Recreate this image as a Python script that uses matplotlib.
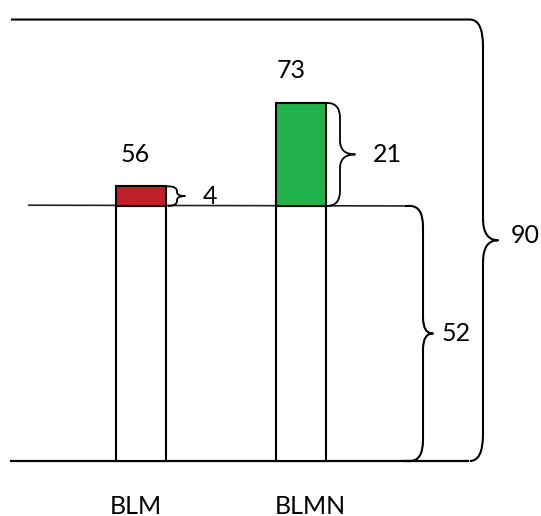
import numpy as np
import matplotlib

matplotlib.use('Agg')
import matplotlib.pyplot as plt
from matplotlib.path import Path
from matplotlib.patches import PathPatch

plt.rcParams['font.family'] = ['Lato', 'DejaVu Sans']

categories = ["BLM", "BLMN"]
totals = [56, 73]
base = 52
maximum = 90
colors = ["#C0202A", "#21B24C"]

# pixel -> data helpers (figure is 541x516 at 100 dpi, axes fill it)
PX_X = 160.0
PX_Y = 4.905


def px(v):
    return v / PX_X


def py(v):
    return v / PX_Y


def brace(ax, x_start, y_top, y_bot, x_vert, x_tip, rx, ry_end, ry_tip, lw=1.5):
    ym = (y_top + y_bot) / 2
    verts = [
        (x_start, y_top), (x_vert - rx, y_top),
        (x_vert, y_top), (x_vert, y_top - ry_end),
        (x_vert, ym + ry_tip),
        (x_vert, ym), (x_tip, ym),
        (x_vert, ym), (x_vert, ym - ry_tip),
        (x_vert, y_bot + ry_end),
        (x_vert, y_bot), (x_vert - rx, y_bot),
    ]
    codes = [Path.MOVETO, Path.LINETO,
             Path.CURVE3, Path.CURVE3,
             Path.LINETO,
             Path.CURVE3, Path.CURVE3,
             Path.CURVE3, Path.CURVE3,
             Path.LINETO,
             Path.CURVE3, Path.CURVE3]
    ax.add_patch(PathPatch(Path(verts, codes), fill=False, lw=lw, color="black",
                           capstyle="butt", joinstyle="round"))


fig = plt.figure(figsize=(5.41, 5.16), dpi=100)
ax = fig.add_axes([0, 0, 1, 1])
ax.set_xlim(-px(141), px(541 - 141))
ax.set_ylim(-py(516 - 461), py(461))
ax.axis("off")

x = np.arange(len(categories))
width = px(50)
diffs = [t - base for t in totals]

ax.bar(x, [base] * len(x), width=width, color="white", edgecolor="black", lw=1.5, zorder=2)
ax.bar(x, diffs, bottom=base, width=width, color=colors, edgecolor="black", lw=1.5, zorder=2)

left = -px(130)
# baseline and level line
ax.plot([left, px(468 - 141)], [0, 0], color="black", lw=1.6, zorder=1)
ax.plot([-px(112), px(410 - 141)], [base + 0.15, base], color="#222222", lw=1.2, zorder=1)

# big brace (total)
brace(ax, left, maximum, 0, px(483 - 141), px(498 - 141), px(13), py(27), py(22), lw=1.5)
# level brace
brace(ax, px(405 - 141), base, 0, px(423 - 141), px(433 - 141), px(13), py(21), py(16), lw=1.5)
ax.plot([px(405 - 141), px(410 - 141)], [0, 0], color="black", lw=1.6)

# small braces on the bars
brace(ax, x[0] + width / 2, totals[0], base, x[0] + width / 2 + px(11), x[0] + width / 2 + px(19),
      px(9), py(5), py(4), lw=1.3)
brace(ax, x[1] + width / 2, totals[1], base, x[1] + width / 2 + px(14), x[1] + width / 2 + px(29),
      px(13), py(15), py(14), lw=1.3)

fs = 18
for i, t in enumerate(totals):
    ax.text(x[i] + px(-6 if i == 0 else -10), t + py(32), str(t), ha="center", va="center", fontsize=fs)
    ax.text(x[i] + px(-5 if i == 0 else 9), -py(45), categories[i], ha="center", va="center", fontsize=fs)

ax.text(x[0] + width / 2 + px(44), (totals[0] + base) / 2, str(diffs[0]), ha="center", va="center", fontsize=fs)
ax.text(x[1] + width / 2 + px(61), (totals[1] + base) / 2, str(diffs[1]), ha="center", va="center", fontsize=fs)
ax.text(px(456 - 141), base / 2, str(base), ha="center", va="center", fontsize=fs)
ax.text(px(525 - 141), maximum / 2 + py(5), str(maximum), ha="center", va="center", fontsize=fs)

fig.savefig("out.png", dpi=100)
